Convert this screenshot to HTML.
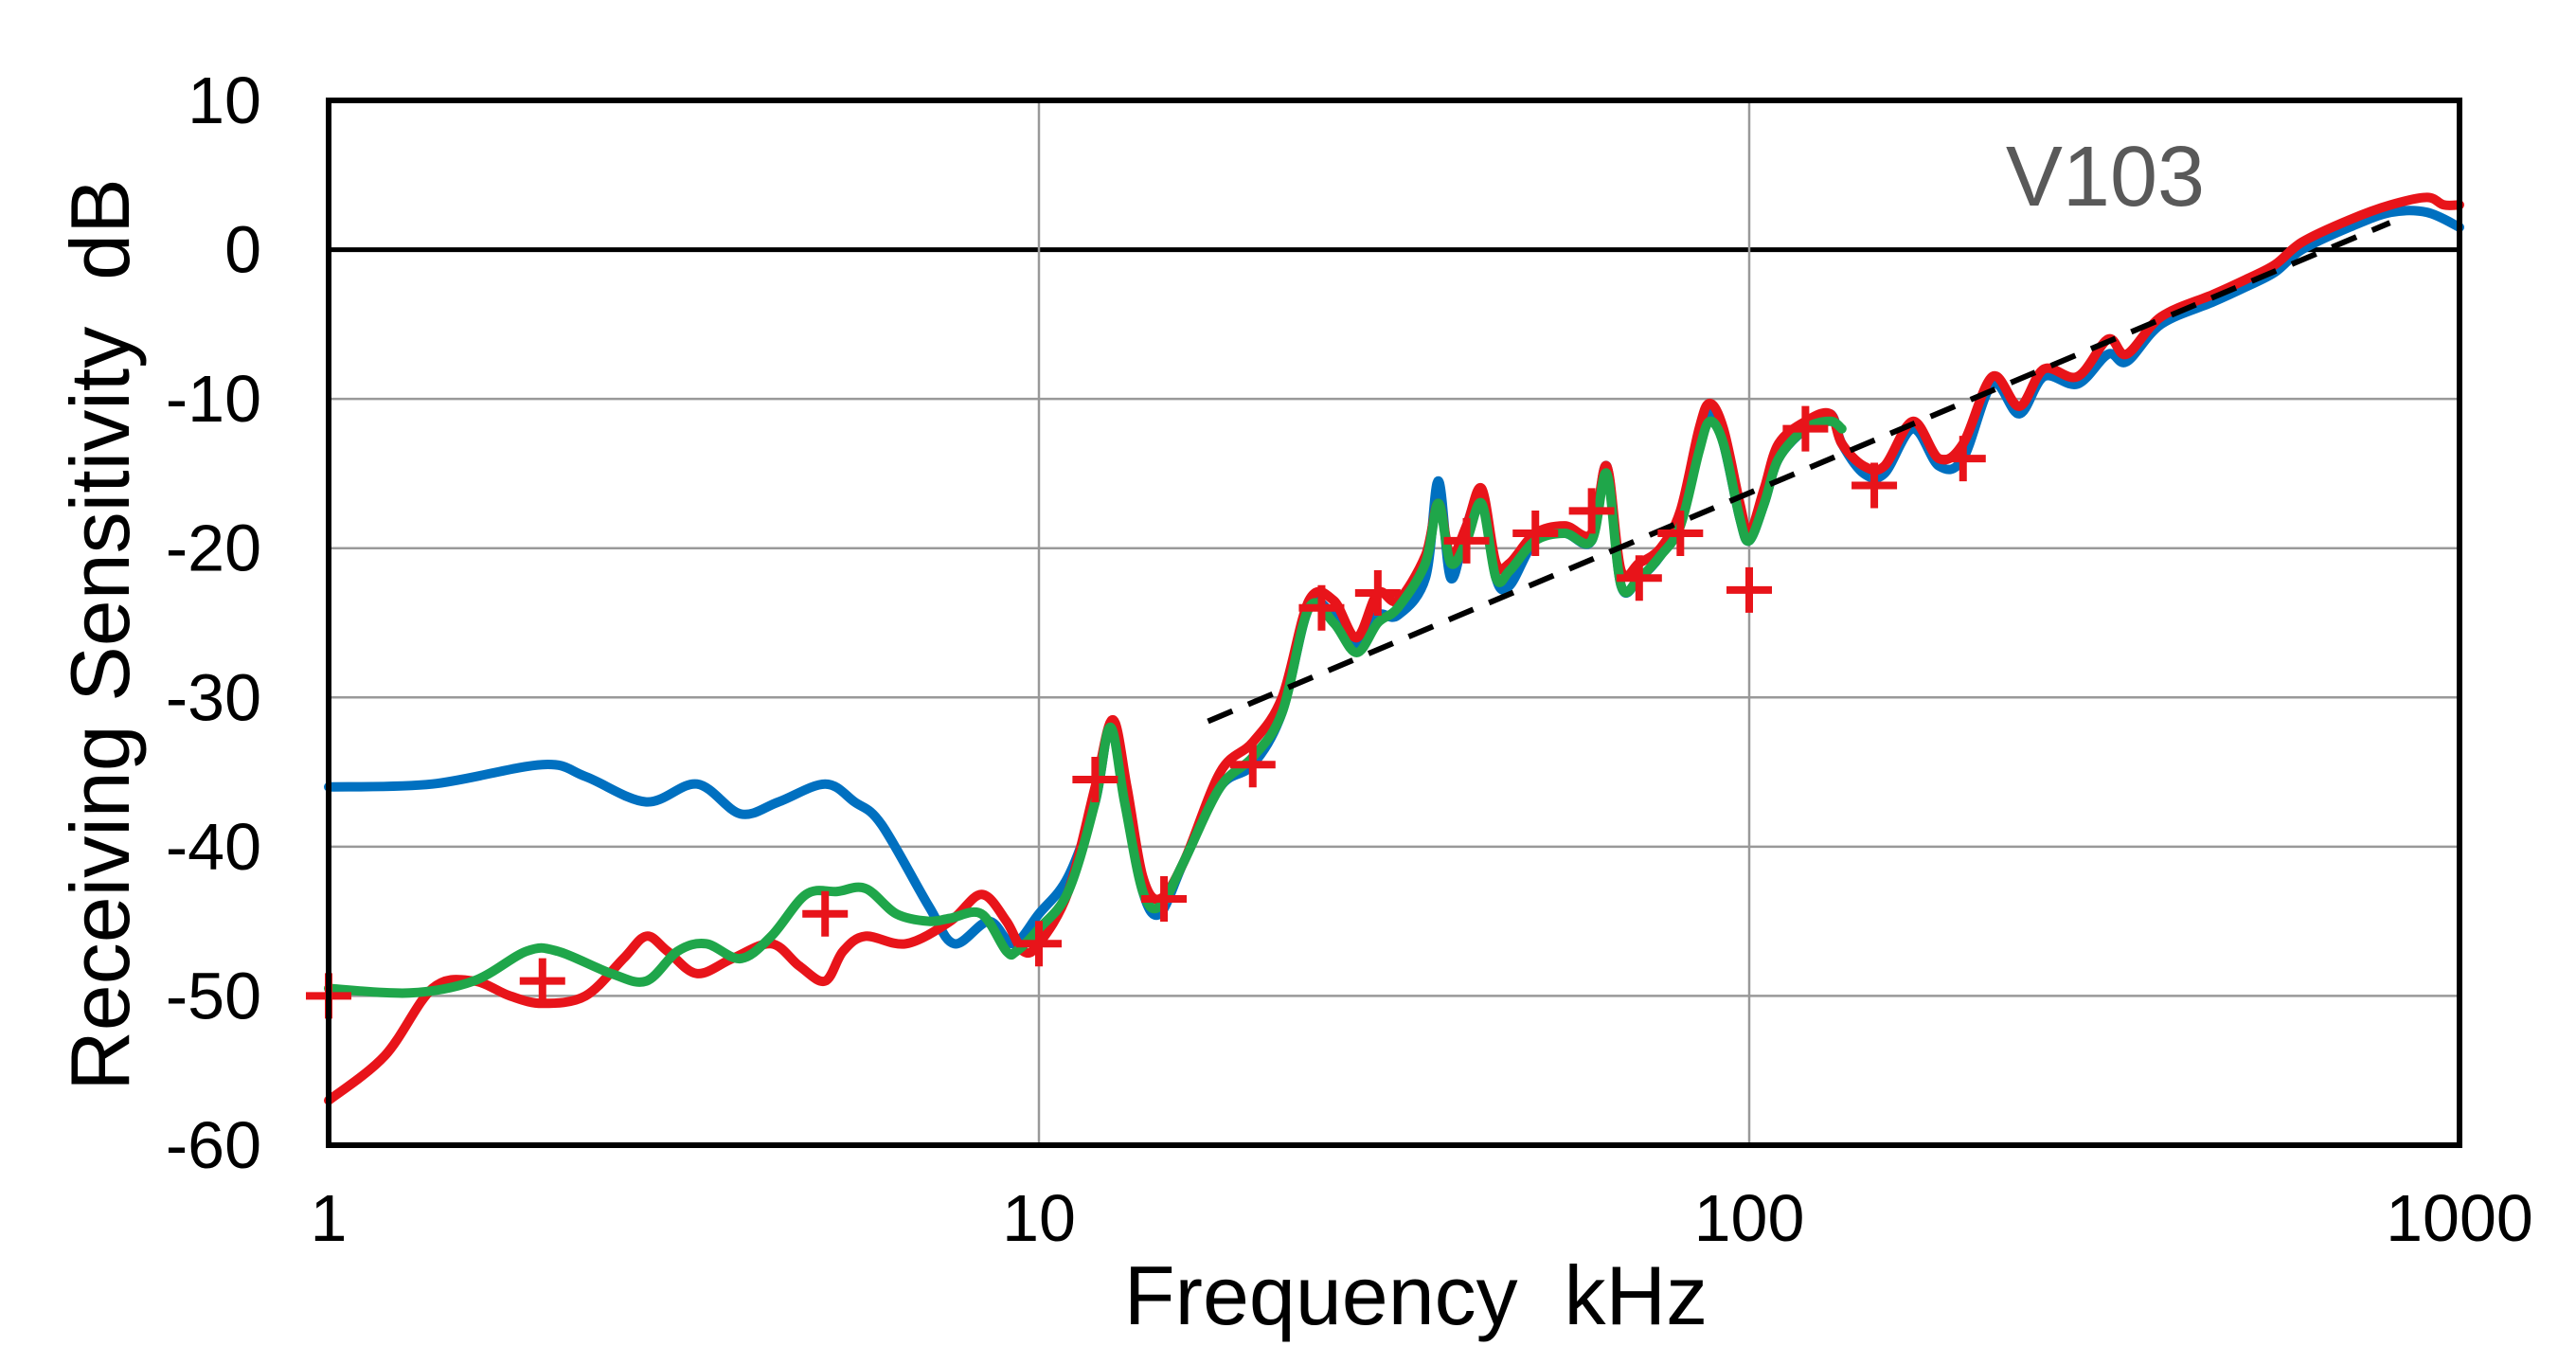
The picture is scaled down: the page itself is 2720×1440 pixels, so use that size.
<!DOCTYPE html>
<html><head><meta charset="utf-8"><style>
html,body{margin:0;padding:0;background:#fff;}
svg{display:block;font-family:"Liberation Sans",sans-serif;}
</style></head><body>
<svg id="chart" width="2720" height="1440" viewBox="0 0 2720 1440" xmlns="http://www.w3.org/2000/svg">
<rect x="0" y="0" width="2720" height="1440" fill="#fff"/>
<g id="grid"></g>
<g id="series"></g>
<g id="ticks"></g>
<rect x="347" y="106" width="2250" height="1103" fill="none" stroke="#000" stroke-width="6"/>
<text x="2223" y="217" font-size="90" fill="#595959" text-anchor="middle">V103</text>
<text x="1495" y="1398" font-size="88" fill="#000" text-anchor="middle" xml:space="preserve">Frequency  kHz</text>
<text x="0" y="0" font-size="88" fill="#000" text-anchor="middle" xml:space="preserve" transform="translate(136,670) rotate(-90)">Receiving Sensitivity  dB</text>
</svg>
<script>
const xTicks=[1,10,100,1000];
const xTickLabels=["1","10","100","1000"];
const yTicks=[10,0,-10,-20,-30,-40,-50,-60];
const yTickLabels=["10","0","-10","-20","-30","-40","-50","-60"];
const blueF=[1,1.4,2,2.3,2.8,3.3,3.8,4.3,5,5.5,6,7,7.6,8.5,9.2,10,11,12,12.6,13.3,14,14.8,16,18,20,22,24,26,28,30,32,35,36.5,38,40,42,44,46,50,55,60,63,66,70,75,80,85,88,92,97,100,105,110,120,130,135,145,155,170,185,200,220,240,260,290,320,340,380,450,500,550,600,700,800,900,1000];
const blueV=[-36,-35.8,-34.5,-35.3,-37,-35.8,-37.8,-37,-35.8,-37,-38.5,-44,-46.5,-45,-46.5,-44.5,-42,-37,-32,-37,-43,-44.5,-41,-36,-34.5,-31,-24,-24.5,-26.5,-24.5,-24.5,-22,-15.5,-22,-18.5,-16.5,-22,-22.5,-19.5,-19,-19.5,-14.5,-22.5,-22,-20.5,-18,-13,-11,-13,-18,-19.5,-17,-14,-12,-11,-13,-15,-15,-12,-14.5,-14,-9,-11,-8.5,-9,-7,-7.5,-5,-3.5,-2.5,-1.5,0,1.5,2.5,2.5,1.5];
const redF=[1,1.2,1.4,1.6,1.8,2,2.3,2.6,2.8,3,3.3,3.7,4.2,4.6,5,5.3,5.7,6.5,7.5,8.3,9,9.5,10,11,12,12.7,13.3,14,14.8,16,18,20,22,24,26,28,30,32,35,36.5,38,40,42,44,46,50,55,60,63,66,70,75,80,85,88,92,97,100,105,110,120,130,135,145,155,170,185,200,220,240,260,290,320,340,380,450,500,550,600,700,800,900,950,1000];
const redV=[-57,-54,-49.5,-49,-50,-50.5,-50,-47.5,-46,-47,-48.5,-47.5,-46.5,-48,-49,-47,-46,-46.5,-45,-43.2,-45,-47,-46.5,-43,-36,-31.5,-36,-42,-43.5,-41,-35,-33,-30,-23.5,-23.5,-26,-23,-23.5,-20.5,-17,-20.5,-18.5,-16,-21,-21,-19,-18.5,-19,-14.5,-21.5,-21,-20,-17.5,-12,-10.3,-12,-17,-19,-16,-13,-11.5,-11,-13,-14.5,-14.5,-11.5,-14,-13,-8.5,-10.5,-8,-8.5,-6,-7,-4.5,-3,-2,-1,0.5,2,3,3.5,3,3];
const greenF=[1,1.3,1.6,1.9,2.1,2.5,2.8,3.1,3.4,3.8,4.2,4.7,5.2,5.7,6.3,7,7.5,8.3,9,9.3,10,11,12,12.6,13.2,14,14.8,16,18,20,22,24,26,28,30,32,35,36.5,38,40,42,44,46,50,55,60,63,66,70,75,80,85,88,92,97,100,105,110,120,130,135];
const greenV=[-49.5,-49.8,-49,-47,-47,-48.5,-49,-47,-46.5,-47.5,-46,-43.2,-43,-42.8,-44.5,-45,-44.8,-44.5,-47,-47,-45.5,-43,-37,-32,-37,-43,-44,-41,-36,-34,-31,-24,-25,-27,-25,-24,-21,-17,-21,-19.5,-17,-22,-21.5,-19.5,-19,-19.5,-15,-22.5,-22,-20.5,-18.5,-13.5,-11.5,-13,-18,-19.5,-17,-14,-12,-11.5,-12];
const markerF=[1,2,5,10,12,15,20,25,30,40,50,60,70,80,100,120,150,200];
const markerV=[-50,-49,-44.5,-46.5,-35.5,-43.5,-34.5,-24,-23,-19.5,-19,-17.5,-22,-19,-22.8,-12,-15.8,-14];
const trendF=[17.3,798];
const trendV=[-31.6,1.8];

const NS="http://www.w3.org/2000/svg";
const X0=347,X1=2597,Y0=106,Y1=1209;
function xs(f){return X0+Math.log10(f)/3*(X1-X0);}
function ys(v){return Y0+(10-v)/70*(Y1-Y0);}
function mk(tag,attrs,parent){const e=document.createElementNS(NS,tag);for(const k in attrs)e.setAttribute(k,attrs[k]);parent.appendChild(e);return e;}
const grid=document.getElementById('grid'),ser=document.getElementById('series'),tk=document.getElementById('ticks');
yTicks.forEach((v,i)=>{
  const l=mk('line',{x1:X0,x2:X1,y1:ys(v),y2:ys(v),stroke:v===0?'#000':'#999','stroke-width':v===0?5:2.5},grid);
  
  
  const t=mk('text',{x:276,y:ys(v)+24,'font-size':70,'text-anchor':'end',fill:'#000'},tk);
  t.textContent=yTickLabels[i];
  
  
});
xTicks.forEach((f,i)=>{
  const l=mk('line',{x1:xs(f),x2:xs(f),y1:Y0,y2:Y1,stroke:'#999','stroke-width':2.5},grid);
  
  
  const t=mk('text',{x:xs(f),y:1310,'font-size':70,'text-anchor':'middle',fill:'#000'},tk);
  t.textContent=xTickLabels[i];
  
  
});
function path(F,V){return F.map((f,i)=>(i?'L':'M')+xs(f).toFixed(1)+' '+ys(V[i]).toFixed(1)).join(' ');}
function smooth(F,V){
  const P=F.map((f,i)=>[xs(f),ys(V[i])]);
  let d='M'+P[0][0].toFixed(1)+' '+P[0][1].toFixed(1);
  for(let i=0;i<P.length-1;i++){
    const p0=P[Math.max(0,i-1)],p1=P[i],p2=P[i+1],p3=P[Math.min(P.length-1,i+2)];
    const c1=[p1[0]+(p2[0]-p0[0])/6,p1[1]+(p2[1]-p0[1])/6];
    const c2=[p2[0]-(p3[0]-p1[0])/6,p2[1]-(p3[1]-p1[1])/6];
    d+=' C'+c1[0].toFixed(1)+' '+c1[1].toFixed(1)+' '+c2[0].toFixed(1)+' '+c2[1].toFixed(1)+' '+p2[0].toFixed(1)+' '+p2[1].toFixed(1);
  }
  return d;
}
const pb=mk('path',{d:smooth(blueF,blueV),fill:'none',stroke:'#0070c0','stroke-width':10,'stroke-linejoin':'round','stroke-linecap':'round'},ser);


const pr=mk('path',{d:smooth(redF,redV),fill:'none',stroke:'#e8141a','stroke-width':10,'stroke-linejoin':'round','stroke-linecap':'round'},ser);


const pg=mk('path',{d:smooth(greenF,greenV),fill:'none',stroke:'#1fa64a','stroke-width':10,'stroke-linejoin':'round','stroke-linecap':'round'},ser);


const tl=mk('path',{d:path(trendF,trendV),fill:'none',stroke:'#000','stroke-width':6,'stroke-dasharray':'28 18'},ser);


markerF.forEach((f,i)=>{
  const cx=xs(f),cy=ys(markerV[i]);
  const m=mk('path',{d:`M${cx-24} ${cy} H${cx+24} M${cx} ${cy-24} V${cy+24}`,stroke:'#e8141a','stroke-width':8,fill:'none'},ser);
  
  
});
</script>
</body></html>
